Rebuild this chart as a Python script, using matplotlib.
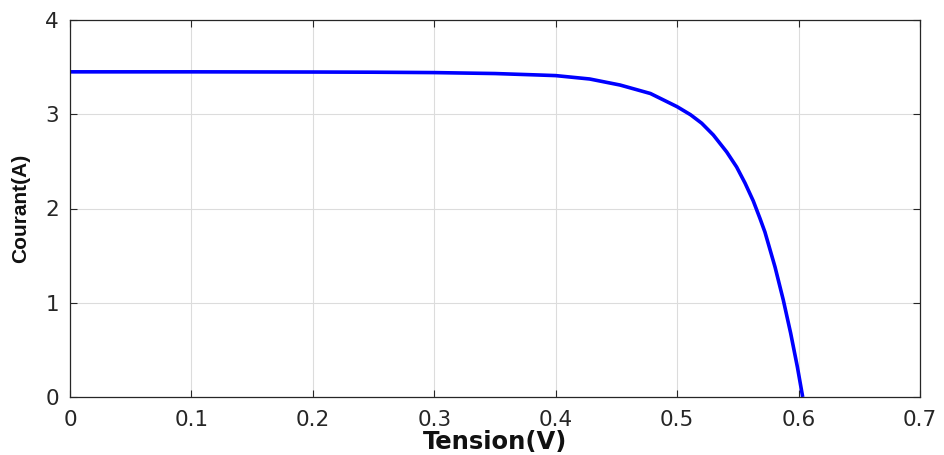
import matplotlib
matplotlib.use("Agg")
import matplotlib.pyplot as plt

tension = [0.0, 0.1, 0.2, 0.25, 0.3, 0.35, 0.387, 0.40, 0.428, 0.453, 0.478, 0.50,
           0.511, 0.5202, 0.5298, 0.5408, 0.549, 0.5559, 0.5627, 0.5682, 0.5723,
           0.5806, 0.5874, 0.5935, 0.599, 0.6034]
courant = [3.45, 3.45, 3.448, 3.446, 3.442, 3.432, 3.416, 3.41, 3.374, 3.31, 3.22, 3.08,
           2.995, 2.905, 2.78, 2.60, 2.44, 2.27, 2.08, 1.895, 1.75,
           1.38, 1.03, 0.676, 0.32, 0.0]

xticks = [0, 0.1, 0.2, 0.3, 0.4, 0.5, 0.6, 0.7]
xticklabels = ["0", "0.1", "0.2", "0.3", "0.4", "0.5", "0.6", "0.7"]
yticks = [0, 1, 2, 3, 4]

plt.rcParams['font.family'] = ['DejaVu Sans']

fig = plt.figure(figsize=(9.44, 4.55), dpi=100)
ax = fig.add_axes([70/944, 1-397/455, 850/944, 377/455])

ax.plot(tension, courant, color=(0, 0, 1), linewidth=2.6,
        solid_capstyle='butt', solid_joinstyle='round')

ax.set_xlim(0, 0.7)
ax.set_ylim(0, 4)
ax.set_xticks(xticks)
ax.set_xticklabels(xticklabels)
ax.set_yticks(yticks)
ax.grid(True, color='#dcdcdc', linewidth=0.8)
ax.set_axisbelow(True)
ax.tick_params(direction='in', length=5, width=0.8, labelsize=15.5, colors='#262626',
               top=True, right=True)
ax.tick_params(axis='x', pad=9)
ax.tick_params(axis='y', pad=8)
for s in ax.spines.values():
    s.set_color('#262626')
    s.set_linewidth(0.9)

ax.set_xlabel('Tension(V)', fontsize=17.5, fontweight='bold', labelpad=0,
              family=['DejaVu Sans'], color='#111111')
ax.set_ylabel('Courant(A)', fontsize=15, fontweight='bold', labelpad=11,
              family=['Liberation Sans', 'DejaVu Sans'], color='#111111')

fig.savefig('out.png', dpi=100, facecolor='white')
